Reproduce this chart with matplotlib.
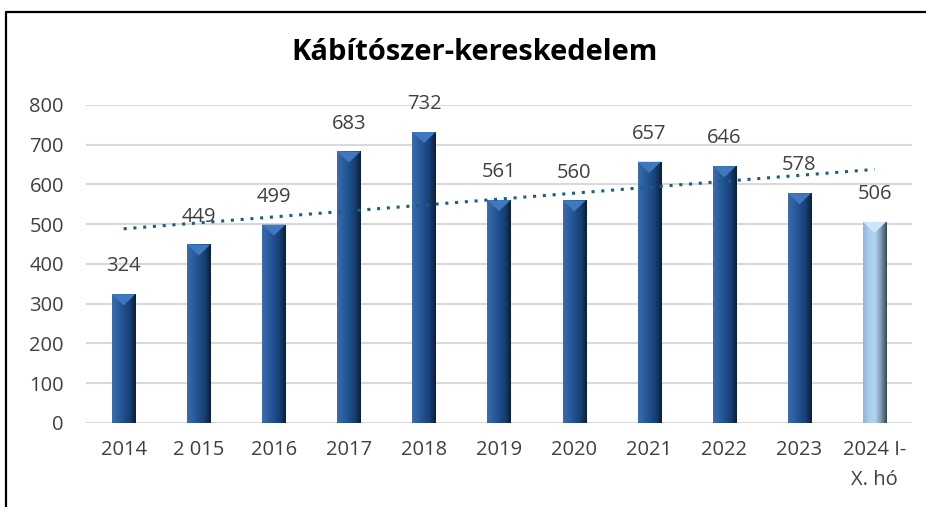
import numpy as np
import matplotlib
matplotlib.use("Agg")
import matplotlib.pyplot as plt
from matplotlib.patches import Polygon
from matplotlib.colors import LinearSegmentedColormap

plt.rcParams['font.family'] = ['Open Sans', 'DejaVu Sans']

categories = ['2014', '2 015', '2016', '2017', '2018', '2019', '2020',
              '2021', '2022', '2023', '2024 I-\nX. hó']
values = [324, 449, 499, 683, 732, 561, 560, 657, 646, 578, 506]

dark_cols = ['#3a6cae', '#2c5f9f', '#1f4f8c', '#173f72', '#0c1e38']
light_cols = ['#8fb6dc', '#a9cdee', '#b3d4f0', '#7f9bb5', '#3a4856']

fig = plt.figure(figsize=(9.26, 5.07), dpi=100)
ax = fig.add_axes([0.093, 0.1657, 0.892, 0.6273])

x = np.arange(len(values))
width = 0.31
bars = ax.bar(x, values, width=width, color='#1f4f8c', zorder=2)

grad = np.linspace(0, 1, 64).reshape(1, -1)
bevel = 28
for i, b in enumerate(bars):
    last = i == len(bars) - 1
    cols = light_cols if last else dark_cols
    cmap = LinearSegmentedColormap.from_list('g', cols)
    x0 = b.get_x()
    x1 = x0 + b.get_width()
    h = b.get_height()
    im = ax.imshow(grad, cmap=cmap, extent=(x0, x1, 0, h), aspect='auto', zorder=3)
    im.set_clip_path(b)
    top = '#cfe6fa' if last else '#3f78bd'
    ax.add_patch(Polygon([(x0, h), (x1, h), ((x0 + x1) / 2, h - bevel)],
                         closed=True, color=top, zorder=4, lw=0))
    ax.annotate(str(values[i]), (x[i], h), xytext=(0, 20), textcoords='offset points',
                ha='center', va='center', fontsize=14.5, color='#404040', zorder=6)

# linear trendline
k, c = np.polyfit(x, values, 1)
ax.plot(x, k * x + c, linestyle=(0, (1, 2.2)), color='#1a5f80', lw=2.2, zorder=5)

ax.set_xlim(-0.5, len(values) - 0.5)
ax.set_ylim(0, 800)
ax.set_yticks(range(0, 801, 100))
ax.set_xticks(x)
ax.set_xticklabels(categories, linespacing=1.7)
ax.tick_params(axis='both', length=0, labelsize=14.5, labelcolor='#404040')
ax.tick_params(axis='y', pad=16)
ax.tick_params(axis='x', pad=12)
ax.grid(axis='y', color='#d9d9d9', lw=1.5, zorder=0)
ax.set_axisbelow(True)
for s in ax.spines.values():
    s.set_visible(False)

fig.text(0.513, 0.897, 'Kábítószer-kereskedelem', ha='center', va='center',
         fontsize=21, fontweight='bold', color='black')

# frame
fig.add_artist(plt.Line2D([0.0065, 0.0065, 1.01], [-0.01, 0.976, 0.976],
                          color='black', lw=1.6, transform=fig.transFigure))

fig.savefig('out.png', dpi=100)
